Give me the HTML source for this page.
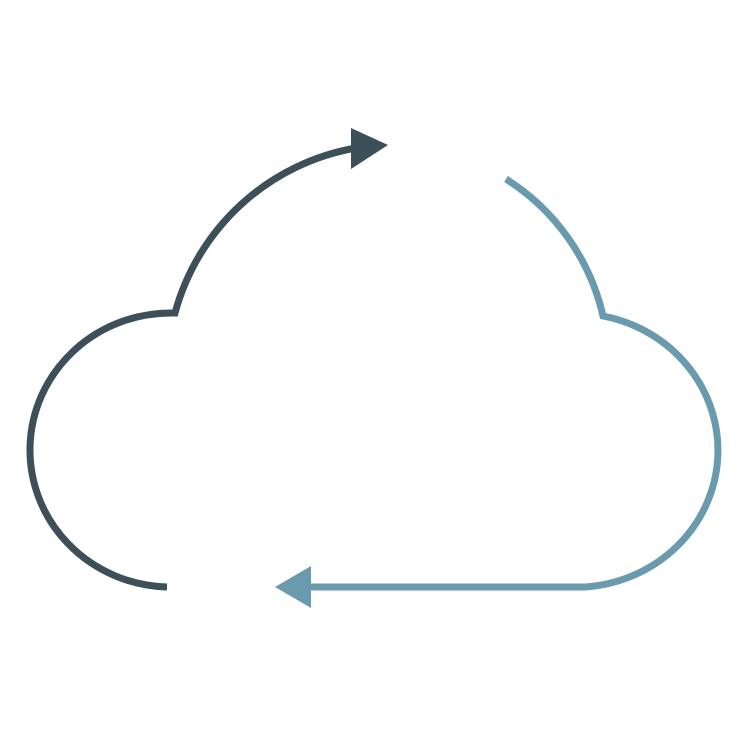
<!DOCTYPE html>
<html><head><style>html,body{margin:0;padding:0;background:#fff;width:750px;height:750px;overflow:hidden}</style></head>
<body>
<svg width="750" height="750" viewBox="0 0 750 750" xmlns="http://www.w3.org/2000/svg">
<g fill="none" stroke-width="7">
<path d="M167,587 A141,137 0 0 1 175,313 A228,228 0 0 1 356,148" stroke="#3d4f58"/>
<path d="M506,179 A220,220 0 0 1 603,316 A143,137 0 0 1 585,587 L308,587" stroke="#6a9aae"/>
</g>
<polygon points="351,128 388,145 351,169" fill="#3d4f58"/>
<polygon points="311,566 275,587 311,608" fill="#6a9aae"/>
</svg>
</body></html>
